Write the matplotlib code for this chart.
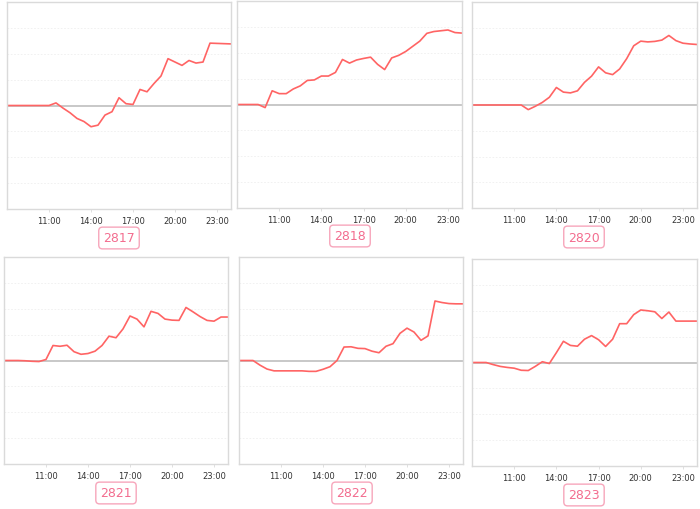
import numpy as np
import matplotlib
matplotlib.use("Agg")
import matplotlib.pyplot as plt

# half-hour samples, 8:00 .. 24:00
hours = np.arange(8.0, 24.01, 0.5)
tick_hours = [11, 14, 17, 20, 23]
tick_labels = ["11:00", "14:00", "17:00", "20:00", "23:00"]

names = ["2817", "2818", "2820", "2821", "2822", "2823"]

s2817 = [0, 0, 0, 0, 0, 0, 0, 0.1, -0.1, -0.28, -0.5, -0.62, -0.82, -0.76, -0.37, -0.24,
         0.3, 0.07, 0.04, 0.62, 0.53, 0.85, 1.14, 1.81, 1.68, 1.55, 1.74, 1.64, 1.68,
         2.41, 2.40, 2.39, 2.38]
s2818 = [0, 0, 0, 0, -0.12, 0.53, 0.42, 0.42, 0.6, 0.72, 0.93, 0.95, 1.1, 1.1, 1.24,
         1.74, 1.6, 1.72, 1.78, 1.83, 1.55, 1.35, 1.8, 1.9, 2.05, 2.25, 2.45, 2.75, 2.82,
         2.85, 2.88, 2.78, 2.76]
s2820 = [0, 0, 0, 0, 0, 0, 0, 0, -0.18, -0.05, 0.1, 0.3, 0.68, 0.5, 0.47, 0.55, 0.88,
         1.12, 1.48, 1.25, 1.18, 1.4, 1.8, 2.3, 2.48, 2.45, 2.47, 2.52, 2.7, 2.5, 2.4,
         2.37, 2.35]
s2821 = [0, 0, 0, -0.01, -0.03, -0.04, 0.04, 0.58, 0.55, 0.59, 0.34, 0.24, 0.27, 0.36,
         0.58, 0.94, 0.88, 1.22, 1.72, 1.6, 1.3, 1.9, 1.82, 1.6, 1.56, 1.55, 2.05, 1.88,
         1.7, 1.55, 1.52, 1.68, 1.68]
s2822 = [0, 0, 0, -0.18, -0.33, -0.4, -0.4, -0.4, -0.4, -0.4, -0.42, -0.42, -0.34, -0.24,
         0, 0.52, 0.53, 0.47, 0.46, 0.36, 0.3, 0.55, 0.65, 1.05, 1.25, 1.1, 0.78, 0.95,
         2.3, 2.24, 2.2, 2.19, 2.19]
s2823 = [0, 0, 0, -0.08, -0.15, -0.19, -0.22, -0.3, -0.31, -0.15, 0.03, -0.04, 0.38, 0.82,
         0.66, 0.63, 0.9, 1.04, 0.88, 0.62, 0.9, 1.5, 1.5, 1.85, 2.03, 2.0, 1.96, 1.7,
         1.95, 1.6, 1.6, 1.6, 1.6]
series = [s2817, s2818, s2820, s2821, s2822, s2823]

W, H = 700, 510
# panel frames in pixels: left, top, right, bottom
frames = [(7, 3, 231, 210), (237, 2, 462, 209), (472, 3, 697, 209),
          (4, 258, 228, 465), (239, 258, 463, 465), (472, 260, 697, 467)]
label_pos = [(119, 239), (350, 237), (584, 238), (116, 494), (352, 494), (584, 496)]

fig = plt.figure(figsize=(W / 100, H / 100), dpi=100)

for name, vals, (l, t, r, b), (lx, ly) in zip(names, series, frames, label_pos):
    ax = fig.add_axes([l / W, 1 - b / H, (r - l) / W, (b - t) / H])
    ax.set_xlim(8, 24)
    ax.set_ylim(-4, 4)
    for yv in [-3, -2, -1, 1, 2, 3]:
        ax.axhline(yv, color="#efefef", lw=0.6, ls=(0, (2, 2)), zorder=0)
    ax.axhline(0, color="#c4c4c4", lw=1.3, zorder=1)
    ax.plot(hours, vals, color="#ff6464", lw=1.2, zorder=2)
    ax.set_xticks(tick_hours)
    ax.set_xticklabels(tick_labels, fontsize=6, color="#333333",
                       family=["Liberation Sans Narrow", "DejaVu Sans"])
    ax.tick_params(axis="x", length=2, width=0.6, color="#dadada", pad=3)
    ax.set_yticks([])
    for sp in ax.spines.values():
        sp.set_color("#dadada")
        sp.set_linewidth(1.0)

    fig.text(lx / W, 1 - ly / H, name, ha="center", va="center", fontsize=9,
             color="#f36d8f",
             bbox=dict(boxstyle="round,pad=0.35,rounding_size=0.3", fc="white",
                       ec="#f7a6bb", lw=1.0))

fig.savefig("out.png", dpi=100)
